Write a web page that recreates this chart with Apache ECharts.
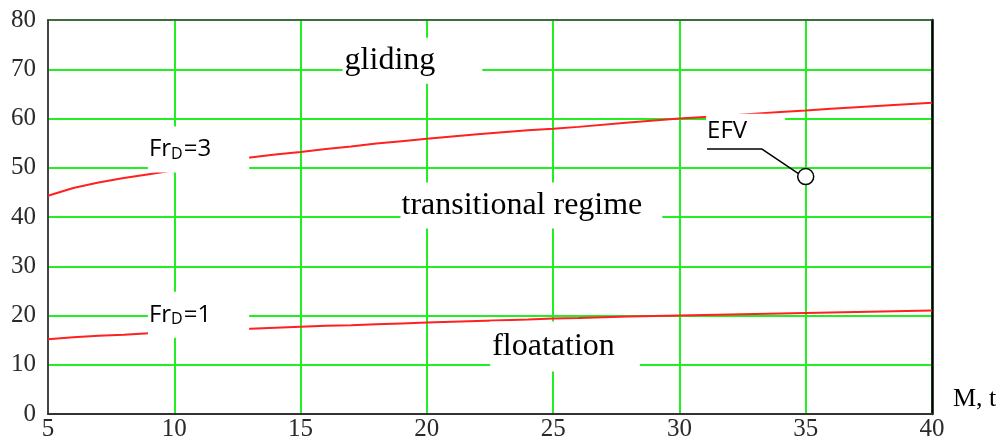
<!DOCTYPE html>
<html><head><meta charset="utf-8">
<script src="https://cdn.jsdelivr.net/npm/echarts@6/dist/echarts.min.js"></script>
<style>html,body{margin:0;padding:0;background:#fff}#c{width:1002px;height:442px}</style>
</head><body><div id="c"></div>
<script>
// Data
const massT = [5,6,7,8,9,10,11,12,13,14,15,16,17,18,19,20,22,24,25,26,28,30,32,34,35,36,38,40];
const frD3  = [44.3,45.9,47.0,47.9,48.7,49.5,50.4,51.3,52.1,52.7,53.2,53.8,54.3,54.9,55.4,55.9,56.8,57.6,57.9,58.3,59.2,60.0,60.6,61.3,61.6,62.0,62.6,63.2];
const frD1  = [15.2,15.6,15.9,16.1,16.4,16.6,16.9,17.1,17.3,17.5,17.7,17.9,18.0,18.2,18.4,18.6,18.9,19.2,19.4,19.5,19.8,20.0,20.2,20.4,20.5,20.6,20.8,21.0];
const efvPoint = [35, 48.2];
const efvLeader = [[31.09, 53.8], [33.27, 53.8], [34.89, 48.2]];
const xTickLabels = ['5','10','15','20','25','30','35','40'];
const yTickLabels = ['0','10','20','30','40','50','60','70','80'];

// Annotation texts and anchor positions (data coordinates)
const annotations = [
  {text: 'gliding', at: [19.43, 71.74], kind: 'serif', pad: [7, 47, 7, 2]},
  {text: 'transitional regime', at: [24.14, 42.32], kind: 'serif', pad: [7, 20, 7, 1]},
  {text: 'floatation', at: [25.47, 13.70], kind: 'serif', pad: [9, 25, 9, 2]},
  {text: '{a|Fr}{s|D}{a|=3}', at: [10.96, 53.70], kind: 'sans', pad: [10, 38, 10, 1]},
  {text: '{a|Fr}{s|D}{a|=1}', at: [10.96, 20.15], kind: 'sans', pad: [10, 38, 10, 1]},
  {text: '{a|EFV}', at: [32.62, 57.33], kind: 'sans', pad: [5, 38, 5, 1]}
];

const chart = echarts.init(document.getElementById('c'), null, {renderer: 'canvas'});
const pair = (xs, ys) => xs.map((x, i) => [x, ys[i]]);
const gridGreen = '#22ee22';

const annSeries = annotations.map(a => ({
  type: 'scatter', z: 5, symbolSize: 0, silent: true,
  itemStyle: {opacity: 1},
  emphasis: {disabled: true},
  data: [{value: a.at}],
  label: {
    show: true, position: 'inside', formatter: a.text, opacity: 1,
    backgroundColor: '#ffffff', padding: a.pad, color: '#000',
    fontFamily: a.kind === 'serif' ? 'Liberation Serif' : 'Open Sans',
    fontSize: a.kind === 'serif' ? 32 : 24, lineHeight: a.kind === 'serif' ? 32 : 26,
    rich: {
      a: {fontFamily: 'Open Sans', fontSize: 24, lineHeight: 26, color: '#000'},
      s: {fontFamily: 'Open Sans', fontSize: 16, lineHeight: 16, color: '#000', verticalAlign: 'bottom', padding: [6, 1, 0, 0]}
    }
  }
}));

const option = {
  animation: false,
  backgroundColor: '#fff',
  grid: {left: 48, right: 70, top: 20, bottom: 26, containLabel: false},
  xAxis: [{
    type: 'value', min: 5, max: 40, interval: 5, position: 'bottom',
    name: 'M, t', nameLocation: 'end', nameGap: 21,
    nameTextStyle: {fontFamily: 'Liberation Serif', fontSize: 26, color: '#000', verticalAlign: 'bottom', padding: [0, 0, 2, 0]},
    axisLine: {show: true, onZero: false, lineStyle: {color: '#333', width: 2}},
    axisTick: {show: false},
    axisLabel: {margin: 3, fontFamily: 'Liberation Serif', fontSize: 25, color: '#2a2a2a',
      formatter: v => xTickLabels[Math.round((v - 5) / 5)] ?? ''},
    splitLine: {show: true, lineStyle: {color: gridGreen, width: 2}}
  }, {
    type: 'value', min: 5, max: 40, position: 'top',
    axisLine: {show: true, onZero: false, lineStyle: {color: '#444', width: 1.5}},
    axisTick: {show: false}, axisLabel: {show: false}, splitLine: {show: false}
  }],
  yAxis: [{
    type: 'value', min: 0, max: 80, interval: 10, position: 'left',
    axisLine: {show: true, onZero: false, lineStyle: {color: '#444', width: 2}},
    axisTick: {show: false},
    axisLabel: {margin: 12, fontFamily: 'Liberation Serif', fontSize: 25, color: '#2a2a2a',
      formatter: v => yTickLabels[Math.round(v / 10)] ?? ''},
    splitLine: {show: true, lineStyle: {color: gridGreen, width: 2}}
  }, {
    type: 'value', min: 0, max: 80, position: 'right',
    axisLine: {show: true, onZero: false, lineStyle: {color: '#000', width: 2.5}},
    axisTick: {show: false}, axisLabel: {show: false}, splitLine: {show: false}
  }],
  series: [
    {type: 'line', z: 2, data: pair(massT, frD3), showSymbol: false, symbol: 'none',
      lineStyle: {color: '#ff2020', width: 2}},
    {type: 'line', z: 2, data: pair(massT, frD1), showSymbol: false, symbol: 'none',
      lineStyle: {color: '#ff2020', width: 2}},
    ...annSeries,
    {type: 'line', z: 6, data: efvLeader, showSymbol: false, symbol: 'none',
      lineStyle: {color: '#000', width: 1.5}},
    {type: 'scatter', z: 7, data: [efvPoint], symbol: 'circle', symbolSize: 16,
      itemStyle: {color: '#fff', borderColor: '#000', borderWidth: 1.5, opacity: 1}}
  ]
};
chart.setOption(option);
</script>
</body></html>
